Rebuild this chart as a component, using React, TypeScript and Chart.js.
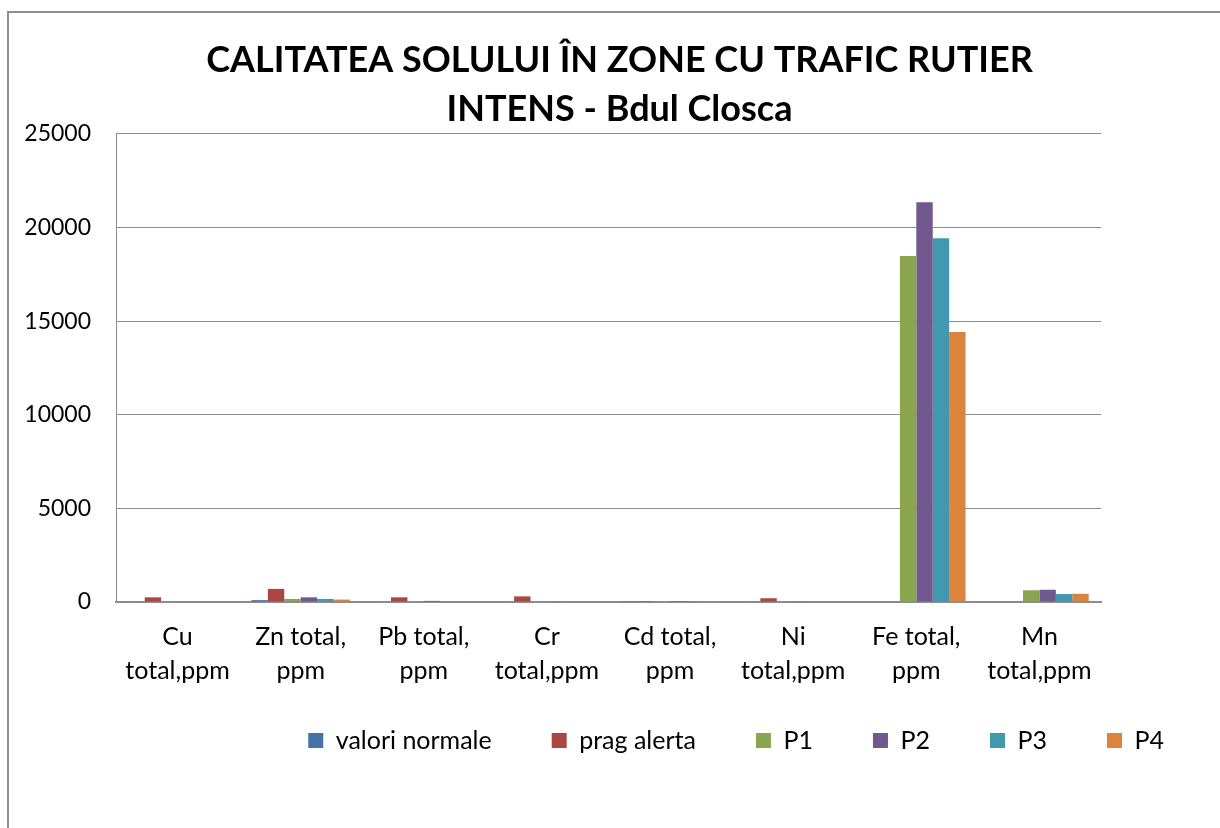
import React, { useEffect, useRef } from "react";
import { Chart, registerables } from "chart.js";

Chart.register(...registerables);

const categories: string[][] = [
  ["Cu", "total,ppm"],
  ["Zn total,", "ppm"],
  ["Pb total,", "ppm"],
  ["Cr", "total,ppm"],
  ["Cd total,", "ppm"],
  ["Ni", "total,ppm"],
  ["Fe total,", "ppm"],
  ["Mn", "total,ppm"],
];

const valoriNormale = [20, 100, 20, 30, 1, 20, null, null];
const pragAlerta = [250, 700, 250, 300, 5, 200, null, null];
const p1 = [25, 160, 55, 30, 0.5, 30, 18480, 625];
const p2 = [30, 250, 60, 35, 0.6, 35, 21350, 655];
const p3 = [22, 160, 35, 28, 0.4, 25, 19430, 425];
const p4 = [28, 130, 30, 25, 0.5, 28, 14420, 440];

const yTicks = [0, 5000, 10000, 15000, 20000, 25000];

const titleLines = ["CALITATEA SOLULUI ÎN ZONE CU TRAFIC RUTIER", "INTENS - Bdul Closca"];

const FONT = "Lato, 'Open Sans', sans-serif";
const LEGEND_SHIFT = 29;

export default function App() {
  const canvasRef = useRef<HTMLCanvasElement | null>(null);

  useEffect(() => {
    if (!canvasRef.current) return;
    const mk = (label: string, data: (number | null)[], color: string) => ({
      label,
      data,
      backgroundColor: color,
      borderWidth: 0,
      categoryPercentage: 0.8,
      barPercentage: 1.0,
    });
    const chart = new Chart(canvasRef.current, {
      type: "bar",
      data: {
        labels: categories,
        datasets: [
          mk("valori normale", valoriNormale, "#4572A7"),
          mk("prag alerta", pragAlerta, "#AA4643"),
          mk("P1", p1, "#89A54E"),
          mk("P2", p2, "#71588F"),
          mk("P3", p3, "#4198AF"),
          mk("P4", p4, "#DB843D"),
        ],
      },
      plugins: [
        {
          id: "legendShift",
          afterLayout(c: any) {
            const l = c.legend;
            if (l) {
              l.top -= LEGEND_SHIFT;
              l.bottom -= LEGEND_SHIFT;
            }
          },
        },
      ],
      options: {
        responsive: false,
        animation: false,
        layout: { padding: { left: 0, right: 0, top: 0, bottom: 36 } },
        plugins: {
          title: {
            display: true,
            text: titleLines,
            color: "#000",
            font: { family: FONT, size: 36, weight: "bold", lineHeight: 1.36 },
            padding: { top: 36, bottom: 0 },
          },
          legend: {
            position: "bottom",
            align: "end",
            labels: {
              boxWidth: 15,
              boxHeight: 15,
              padding: 60,
              color: "#000",
              font: { family: FONT, size: 25 },
            },
          },
          tooltip: { enabled: false },
        },
        scales: {
          x: {
            grid: { display: false, drawTicks: false },
            border: { display: true, color: "#8c8c8c", width: 2 },
            ticks: {
              color: "#000",
              font: { family: FONT, size: 25, lineHeight: 1.36 },
              padding: 18,
              maxRotation: 0,
              autoSkip: false,
            },
            afterFit: (s: any) => {
              s.height = 95;
            },
          },
          y: {
            min: 0,
            max: 25000,
            afterBuildTicks: (s: any) => {
              s.ticks = yTicks.map((v) => ({ value: v }));
            },
            ticks: {
              callback: (v: any) => String(v),
              padding: 25,
              color: "#000",
              font: { family: FONT, size: 23 },
            },
            grid: { color: "#8c8c8c", drawTicks: false, lineWidth: 1 },
            border: { display: true, color: "#8c8c8c", width: 1 },
            afterFit: (s: any) => {
              s.width = 101;
            },
          },
          yR: {
            type: "linear",
            position: "right",
            display: true,
            grid: { display: false, drawTicks: false },
            ticks: { display: false },
            border: { display: false },
            afterFit: (s: any) => {
              s.width = 123;
            },
          },
        },
      } as any,
    });
    return () => chart.destroy();
  }, []);

  return (
    <div
      style={{
        position: "fixed",
        left: 0,
        top: 0,
        width: 1220,
        height: 828,
        overflow: "hidden",
        background: "#fff",
      }}
    >
      <div
        style={{
          position: "absolute",
          left: 7,
          top: 11,
          width: 1400,
          height: 1000,
          border: "2px solid #8f8f8f",
          boxSizing: "border-box",
        }}
      />
      <canvas
        ref={canvasRef}
        width={1209}
        height={828}
        style={{ position: "absolute", left: 15, top: 0, width: 1209, height: 828 }}
      />
    </div>
  );
}
